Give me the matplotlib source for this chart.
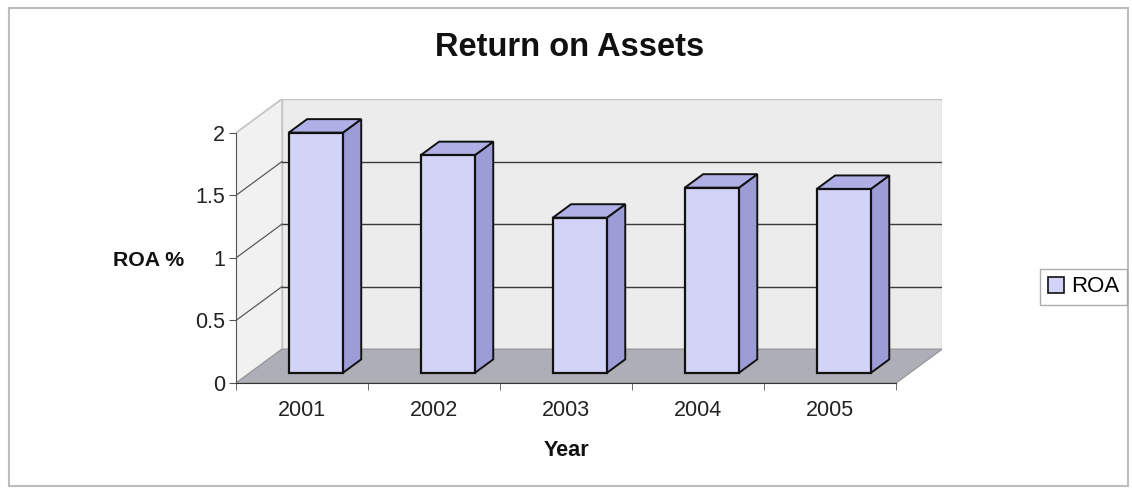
import matplotlib
matplotlib.use("Agg")
import matplotlib.pyplot as plt
from matplotlib.patches import Polygon, Patch, Rectangle

# Data
years = ["2001", "2002", "2003", "2004", "2005"]
roa = [1.92, 1.74, 1.24, 1.48, 1.47]
y_ticks = [0, 0.5, 1, 1.5, 2]
y_tick_labels = ["0", "0.5", "1", "1.5", "2"]

plt.rcParams["font.family"] = ["Liberation Sans", "DejaVu Sans"]

W, H = 1132, 488
fig = plt.figure(figsize=(W / 100, H / 100), dpi=100)
fig.patch.set_facecolor("white")

# Oblique depth offset of the 3D box (in data units)
DX, DY = 0.348, 0.27
YMAX = 2.0
n = len(years)
x0, x1 = -0.5, n - 0.5

# plot region in pixels: front-left corner at (236, 383), back-top at y=99
left_px, right_px, top_px, bot_px = 236, 942, 99, 383
ax = fig.add_axes([left_px / W, 1 - bot_px / H,
                   (right_px - left_px) / W, (bot_px - top_px) / H])
ax.set_xlim(x0, x1 + DX)
ax.set_ylim(0, YMAX + DY)
ax.patch.set_visible(False)

wall_edge = "#c4c4c4"
# back wall
ax.add_patch(Polygon([(x0 + DX, DY), (x1 + DX, DY), (x1 + DX, YMAX + DY), (x0 + DX, YMAX + DY)],
                     closed=True, facecolor="#ececec", edgecolor=wall_edge, lw=1.0, zorder=1))
# side wall
ax.add_patch(Polygon([(x0, 0), (x0 + DX, DY), (x0 + DX, YMAX + DY), (x0, YMAX)],
                     closed=True, facecolor="#f1f1f1", edgecolor=wall_edge, lw=1.0, zorder=1))
# floor
ax.add_patch(Polygon([(x0, 0), (x1, 0), (x1 + DX, DY), (x0 + DX, DY)],
                     closed=True, facecolor="#aeaeb6", edgecolor="#9a9aa0", lw=1.0, zorder=2))

# gridlines on back and side walls
for v in y_ticks[1:-1]:
    ax.plot([x0 + DX, x1 + DX], [v + DY, v + DY], color="#3a3a3a", lw=1.0, zorder=3)
    ax.plot([x0, x0 + DX], [v, v + DY], color="#5a5a5a", lw=0.9, zorder=3)
ax.plot([x0, x0 + DX], [YMAX, YMAX + DY], color=wall_edge, lw=1.0, zorder=3)

# 3D bars
f0, f1 = 0.3, 0.7
bw = 0.41
front_c, side_c, top_c = "#d3d3f8", "#9c9cd6", "#b0b0e6"
edge = "#111111"
for i, v in enumerate(roa):
    xl = i - bw / 2 + f0 * DX
    xr = i + bw / 2 + f0 * DX
    yb = f0 * DY
    ddx, ddy = (f1 - f0) * DX, (f1 - f0) * DY
    ax.add_patch(Polygon([(xr, yb), (xr + ddx, yb + ddy), (xr + ddx, v + yb + ddy), (xr, v + yb)],
                         closed=True, facecolor=side_c, edgecolor=edge, lw=1.4, zorder=5))
    ax.add_patch(Polygon([(xl, v + yb), (xr, v + yb), (xr + ddx, v + yb + ddy), (xl + ddx, v + yb + ddy)],
                         closed=True, facecolor=top_c, edgecolor=edge, lw=1.4, zorder=5))
    ax.add_patch(Rectangle((xl, yb), bw, v, facecolor=front_c, edgecolor=edge, lw=1.6, zorder=6))

# front axes
for s in ["top", "right"]:
    ax.spines[s].set_visible(False)
ax.spines["left"].set_bounds(0, YMAX)
ax.spines["bottom"].set_bounds(x0, x1)
ax.spines["left"].set_color("#555555")
ax.spines["bottom"].set_color("#333333")
ax.spines["left"].set_zorder(4)
ax.spines["bottom"].set_zorder(4)

ax.set_yticks(y_ticks)
ax.set_yticklabels(y_tick_labels)
ax.tick_params(axis="y", length=5, color="#555555", labelsize=15.5, labelcolor="#222222", pad=3)

ax.set_xticks(range(n))
ax.set_xticklabels(years)
ax.set_xticks([k + 0.5 for k in range(-1, n)], minor=True)
ax.tick_params(axis="x", which="major", length=0, labelsize=15.5, labelcolor="#222222", pad=12)
ax.tick_params(axis="x", which="minor", length=5, color="#555555")

# titles and axis labels
fig.text(570 / W, 1 - 47 / H, "Return on Assets", ha="center", va="center",
         fontsize=23.5, fontweight="bold", color="#111111")
fig.text(149 / W, 1 - 260 / H, "ROA %", ha="center", va="center",
         fontsize=15.3, fontweight="bold", color="#111111")
fig.text(567 / W, 1 - 450 / H, "Year", ha="center", va="center",
         fontsize=15.6, fontweight="bold", color="#111111")

# legend
leg = fig.legend(handles=[Patch(facecolor=front_c, edgecolor=edge, lw=1.2, label="ROA")],
                 loc="center left", bbox_to_anchor=(1040 / W, 1 - 287 / H),
                 fontsize=16, frameon=True, fancybox=False, borderpad=0.35,
                 handlelength=0.75, handleheight=0.75, handletextpad=0.3, borderaxespad=0)
leg.get_frame().set_edgecolor("#999999")
leg.get_frame().set_linewidth(1.0)

# chart-area border
fig.patches.append(Rectangle((9 / W, 2 / H), (1128 - 9) / W, (486 - 8) / H,
                             transform=fig.transFigure, fill=False,
                             edgecolor="#bdbdbd", lw=1.5))

fig.savefig("out.png", dpi=100)
